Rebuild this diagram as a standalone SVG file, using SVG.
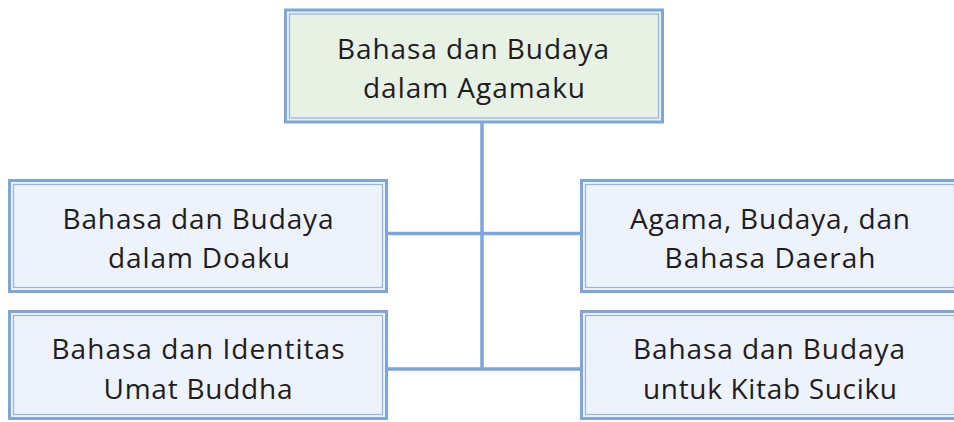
<svg xmlns="http://www.w3.org/2000/svg" width="954" height="422" viewBox="0 0 954 422">
  <defs>
    <style>
      .frame { stroke: #7fa5da; stroke-width: 3; }
      .inner { fill: none; stroke: #95b4df; stroke-width: 1.2; }
      .root { fill: #e7f2e5; }
      .topic { fill: #edf2fb; }
      .label { font-family: "Open Sans", "Noto Sans", sans-serif; font-size: 28px; fill: #1f1c1d; text-anchor: middle; }
      .link { stroke: #7fa5da; stroke-width: 3.5; fill: none; }
    </style>
  </defs>
  <rect width="954" height="422" fill="#ffffff"/>

  <!-- connectors -->
  <g id="connectors">
    <line class="link" x1="482" y1="123" x2="482" y2="369"/>
    <line class="link" x1="387" y1="233.5" x2="582" y2="233.5"/>
    <line class="link" x1="387" y1="369" x2="582" y2="369"/>
  </g>

  <!-- root topic -->
  <g id="node-root">
    <rect class="frame root" x="285.5" y="10" width="377" height="112"/>
    <rect class="inner" x="289.5" y="14" width="369" height="104"/>
    <text class="label" x="473" y="59" textLength="272" lengthAdjust="spacing">Bahasa dan Budaya</text>
    <text class="label" x="474" y="98" textLength="222" lengthAdjust="spacing">dalam Agamaku</text>
  </g>

  <g id="node-doa">
    <rect class="frame topic" x="9.5" y="180.5" width="377" height="111"/>
    <rect class="inner" x="13.5" y="184.5" width="369" height="103"/>
    <text class="label" x="198" y="229" textLength="271" lengthAdjust="spacing">Bahasa dan Budaya</text>
    <text class="label" x="199" y="268" textLength="182" lengthAdjust="spacing">dalam Doaku</text>
  </g>

  <g id="node-daerah">
    <rect class="frame topic" x="581.5" y="180.5" width="377" height="111"/>
    <rect class="inner" x="585.5" y="184.5" width="369" height="103"/>
    <text class="label" x="770" y="229" textLength="280" lengthAdjust="spacing">Agama, Budaya, dan</text>
    <text class="label" x="770" y="268" textLength="211" lengthAdjust="spacing">Bahasa Daerah</text>
  </g>

  <g id="node-identitas">
    <rect class="frame topic" x="9.5" y="311.5" width="377" height="107"/>
    <rect class="inner" x="13.5" y="315.5" width="369" height="99"/>
    <text class="label" x="198" y="359" textLength="293" lengthAdjust="spacing">Bahasa dan Identitas</text>
    <text class="label" x="198" y="399" textLength="189" lengthAdjust="spacing">Umat Buddha</text>
  </g>

  <g id="node-kitab">
    <rect class="frame topic" x="581.5" y="311.5" width="377" height="107"/>
    <rect class="inner" x="585.5" y="315.5" width="369" height="99"/>
    <text class="label" x="769" y="359" textLength="272" lengthAdjust="spacing">Bahasa dan Budaya</text>
    <text class="label" x="770" y="399" textLength="254" lengthAdjust="spacing">untuk Kitab Suciku</text>
  </g>
</svg>
